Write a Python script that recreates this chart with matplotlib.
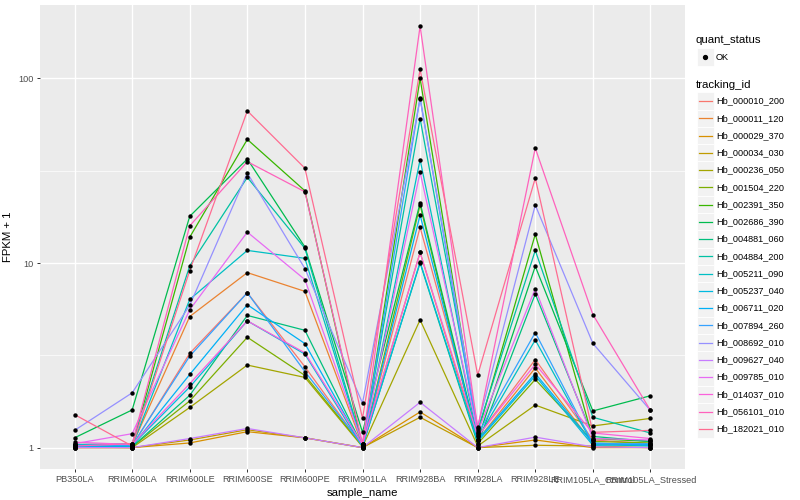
import numpy as np
import matplotlib
matplotlib.use("Agg")
import matplotlib.pyplot as plt
from matplotlib.patches import Rectangle
from matplotlib.lines import Line2D
from matplotlib.ticker import FixedLocator, NullFormatter

plt.rcParams['font.family'] = ['Liberation Sans', 'DejaVu Sans']

# samples on the x axis
samples = ['PB350LA', 'RRIM600LA', 'RRIM600LE', 'RRIM600SE', 'RRIM600PE',
           'RRIM901LA', 'RRIM928BA', 'RRIM928LA', 'RRIM928LE',
           'RRIM105LA_Control', 'RRIM105LA_Stressed']

tracking_ids = ['Hb_000010_200', 'Hb_000011_120', 'Hb_000029_370', 'Hb_000034_030',
                'Hb_000236_050', 'Hb_001504_220', 'Hb_002391_350', 'Hb_002686_390',
                'Hb_004881_060', 'Hb_004884_200', 'Hb_005211_090', 'Hb_005237_040',
                'Hb_006711_020', 'Hb_007894_260', 'Hb_008692_010', 'Hb_009627_040',
                'Hb_009785_010', 'Hb_014037_010', 'Hb_056101_010', 'Hb_182021_010']

# FPKM + 1 (one list per gene, order as samples)
hb_000010_200 = [1.03, 1.02, 3.24, 6.9, 2.74, 1.02, 15.6, 1.15, 3.0, 1.10, 1.05]
hb_000011_120 = [1.02, 1.03, 5.13, 8.87, 7.02, 1.03, 11.4, 1.10, 2.7, 1.05, 1.03]
hb_000029_370 = [1.00, 1.00, 1.06, 1.22, 1.13, 1.00, 1.56, 1.00, 1.10, 1.00, 1.00]
hb_000034_030 = [1.00, 1.00, 1.10, 1.25, 1.13, 1.00, 1.46, 1.00, 1.03, 1.02, 1.00]
hb_000236_050 = [1.01, 1.00, 1.65, 2.8, 2.40, 1.01, 4.92, 1.02, 1.70, 1.31, 1.44]
hb_001504_220 = [1.02, 1.01, 1.79, 3.96, 2.46, 1.02, 20.6, 1.05, 2.34, 1.08, 1.06]
hb_002391_350 = [1.01, 1.02, 13.8, 46.7, 24.6, 1.01, 100.0, 1.20, 14.3, 1.12, 1.08]
hb_002686_390 = [1.13, 1.60, 17.9, 36.6, 12.2, 1.21, 21.2, 1.10, 9.6, 1.58, 1.91]
hb_004881_060 = [1.02, 1.01, 1.92, 5.2, 4.32, 1.02, 10.0, 1.05, 6.8, 1.15, 1.08]
hb_004884_200 = [1.04, 1.05, 9.65, 29.1, 12.0, 1.04, 60.5, 1.25, 11.7, 1.46, 1.20]
hb_005211_090 = [1.03, 1.02, 6.35, 11.7, 10.6, 1.03, 36.3, 1.12, 3.83, 1.04, 1.02]
hb_005237_040 = [1.01, 1.03, 2.13, 4.86, 3.21, 1.01, 10.1, 1.08, 2.45, 1.03, 1.04]
hb_006711_020 = [1.02, 1.02, 2.49, 5.94, 3.66, 1.02, 18.2, 1.10, 2.52, 1.06, 1.03]
hb_007894_260 = [1.03, 1.03, 3.13, 6.9, 2.58, 1.03, 78.5, 1.18, 4.2, 1.05, 1.05]
hb_008692_010 = [1.24, 1.98, 5.9, 30.7, 9.33, 1.74, 77.5, 1.30, 20.6, 3.67, 1.59]
hb_009627_040 = [1.00, 1.00, 1.12, 1.27, 1.13, 1.00, 1.76, 1.00, 1.14, 1.01, 1.00]
hb_009785_010 = [1.05, 1.19, 5.58, 14.7, 8.13, 1.05, 31.0, 1.22, 7.26, 1.12, 1.10]
hb_014037_010 = [1.07, 1.04, 2.22, 4.86, 3.26, 1.04, 11.4, 1.15, 2.83, 1.20, 1.12]
hb_056101_010 = [1.02, 1.05, 15.9, 35.4, 24.3, 1.05, 192.0, 1.28, 41.9, 5.26, 1.59]
hb_182021_010 = [1.51, 1.02, 9.1, 66.7, 32.6, 1.44, 112.0, 2.47, 28.8, 1.21, 1.24]

series = [hb_000010_200, hb_000011_120, hb_000029_370, hb_000034_030, hb_000236_050,
          hb_001504_220, hb_002391_350, hb_002686_390, hb_004881_060, hb_004884_200,
          hb_005211_090, hb_005237_040, hb_006711_020, hb_007894_260, hb_008692_010,
          hb_009627_040, hb_009785_010, hb_014037_010, hb_056101_010, hb_182021_010]

# ggplot default hue palette for 20 levels
colors = ['#F8766D', '#EA8331', '#D89000', '#C09B00', '#A3A500', '#7CAE00', '#39B600',
          '#00BB4E', '#00BF7D', '#00C1A3', '#00BFC4', '#00BAE0', '#00B0F6', '#35A2FF',
          '#9590FF', '#C77CFF', '#E76BF3', '#FA62DB', '#FF62BC', '#FF6C91']

W, H = 800, 500
fig = plt.figure(figsize=(8, 5), dpi=100)
ax = fig.add_axes([40 / W, 1 - 468.7 / H, 645 / W, 463.7 / H])
ax.set_facecolor('#EBEBEB')
for s in ax.spines.values():
    s.set_visible(False)

for vals, c in zip(series, colors):
    ax.plot(samples, vals, color=c, lw=0.9, zorder=3)
for vals in series:
    ax.scatter(samples, vals, s=10, color='black', marker='o', lw=0, zorder=4)

ax.set_yscale('log')
allv = np.log10(np.concatenate([np.array(v) for v in series]))
lo, hi = allv.min(), allv.max()
r = hi - lo
ax.set_ylim(10 ** (lo - 0.05 * r), 10 ** (hi + 0.05 * r))
ax.set_xlim(-0.6, len(samples) - 0.4)

ax.yaxis.set_major_locator(FixedLocator([1, 10, 100]))
ax.set_yticklabels(['1', '10', '100'])
ax.yaxis.set_minor_locator(FixedLocator([10 ** 0.5, 10 ** 1.5]))
ax.yaxis.set_minor_formatter(NullFormatter())

ax.grid(True, which='major', color='white', lw=1.0, zorder=0)
ax.grid(True, which='minor', axis='y', color='white', lw=0.5, zorder=0)
ax.set_axisbelow(True)
ax.tick_params(which='major', length=2.5, width=0.7, color='#333333',
               labelsize=6.6, labelcolor='#4D4D4D', pad=2)
ax.tick_params(which='minor', length=0)

ax.set_xlabel('sample_name', fontsize=8.2, labelpad=3)
ax.set_ylabel('FPKM + 1', fontsize=8.2, labelpad=4)


def fy(y):
    return 1 - y / H


# legend: quant_status
fig.text(696 / W, fy(40), 'quant_status', fontsize=8.2, va='center', ha='left')
fig.patches.append(Rectangle((697 / W, fy(65.5)), 16.5 / W, 17 / H, transform=fig.transFigure,
                             facecolor='#F2F2F2', edgecolor='white', lw=0.6))
fig.lines.append(Line2D([705 / W], [fy(57)], transform=fig.transFigure, marker='o',
                        markersize=2.8, color='black', lw=0))
fig.text(716 / W, fy(57), 'OK', fontsize=6.6, va='center', ha='left')

# legend: tracking_id
fig.text(696 / W, fy(85), 'tracking_id', fontsize=8.2, va='center', ha='left')
y0, dy = 101.0, 17.26
for i, (tid, c) in enumerate(zip(tracking_ids, colors)):
    yc = y0 + i * dy
    fig.patches.append(Rectangle((697 / W, fy(yc + dy / 2)), 16.5 / W, dy / H,
                                 transform=fig.transFigure, facecolor='#F2F2F2',
                                 edgecolor='white', lw=0.6))
    fig.lines.append(Line2D([699 / W, 711.5 / W], [fy(yc), fy(yc)], transform=fig.transFigure,
                            color=c, lw=0.9))
    fig.text(716 / W, fy(yc), tid, fontsize=6.6, va='center', ha='left')

fig.savefig('out.png', dpi=100)
